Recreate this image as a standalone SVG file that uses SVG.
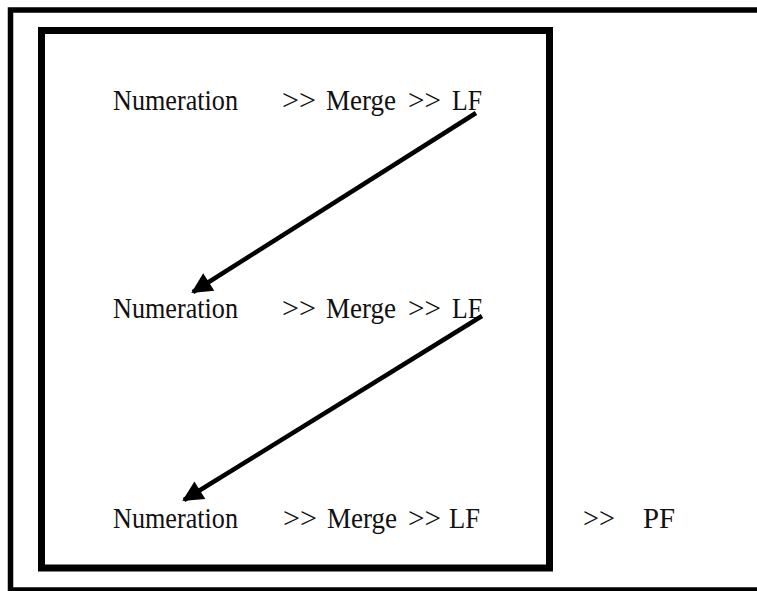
<svg xmlns="http://www.w3.org/2000/svg" width="757" height="591" viewBox="0 0 757 591">
<style>
.t{font-family:"Liberation Serif","Times New Roman",serif;font-size:30px;fill:#111}
.frame{fill:none;stroke:#000}
.conn{stroke:#000;stroke-width:4.5;fill:none}
</style>
<defs>
<marker id="ah" viewBox="0 0 10 10" refX="9" refY="5" markerWidth="5.2" markerHeight="4.6" orient="auto" markerUnits="strokeWidth">
<path d="M0,0 L10,5 L0,10 z" fill="#000"/>
</marker>
</defs>
<rect width="757" height="591" fill="#fff"/>
<g id="outer"><rect class="frame" x="10.5" y="10" width="760" height="580" stroke-width="5.5"/></g>
<g id="inner"><rect class="frame" x="41.5" y="30.5" width="508" height="537.5" stroke-width="7"/></g>
<g id="row1">
<text class="t" x="113" y="110" textLength="125" lengthAdjust="spacingAndGlyphs">Numeration</text>
<text class="t" x="282" y="110" textLength="34" lengthAdjust="spacingAndGlyphs">&gt;&gt;</text>
<text class="t" x="326" y="110" textLength="70" lengthAdjust="spacingAndGlyphs">Merge</text>
<text class="t" x="408" y="110" textLength="33" lengthAdjust="spacingAndGlyphs">&gt;&gt;</text>
<text class="t" x="452" y="110" textLength="30" lengthAdjust="spacingAndGlyphs">LF</text>
</g>
<g id="row2">
<text class="t" x="113" y="318" textLength="125" lengthAdjust="spacingAndGlyphs">Numeration</text>
<text class="t" x="282" y="318" textLength="34" lengthAdjust="spacingAndGlyphs">&gt;&gt;</text>
<text class="t" x="326" y="318" textLength="70" lengthAdjust="spacingAndGlyphs">Merge</text>
<text class="t" x="408" y="318" textLength="33" lengthAdjust="spacingAndGlyphs">&gt;&gt;</text>
<text class="t" x="452" y="318" textLength="30" lengthAdjust="spacingAndGlyphs">LF</text>
</g>
<g id="row3">
<text class="t" x="113" y="528" textLength="125" lengthAdjust="spacingAndGlyphs">Numeration</text>
<text class="t" x="283" y="528" textLength="34" lengthAdjust="spacingAndGlyphs">&gt;&gt;</text>
<text class="t" x="327" y="528" textLength="70" lengthAdjust="spacingAndGlyphs">Merge</text>
<text class="t" x="408" y="528" textLength="33" lengthAdjust="spacingAndGlyphs">&gt;&gt;</text>
<text class="t" x="449" y="528" textLength="31" lengthAdjust="spacingAndGlyphs">LF</text>
<text class="t" x="583" y="528" textLength="32" lengthAdjust="spacingAndGlyphs">&gt;&gt;</text>
<text class="t" x="643" y="528" textLength="32" lengthAdjust="spacingAndGlyphs">PF</text>
</g>
<g id="connectors">
<line class="conn" x1="476" y1="113" x2="193" y2="292" marker-end="url(#ah)"/>
<line class="conn" x1="482" y1="316" x2="184" y2="500" marker-end="url(#ah)"/>
</g>
</svg>
